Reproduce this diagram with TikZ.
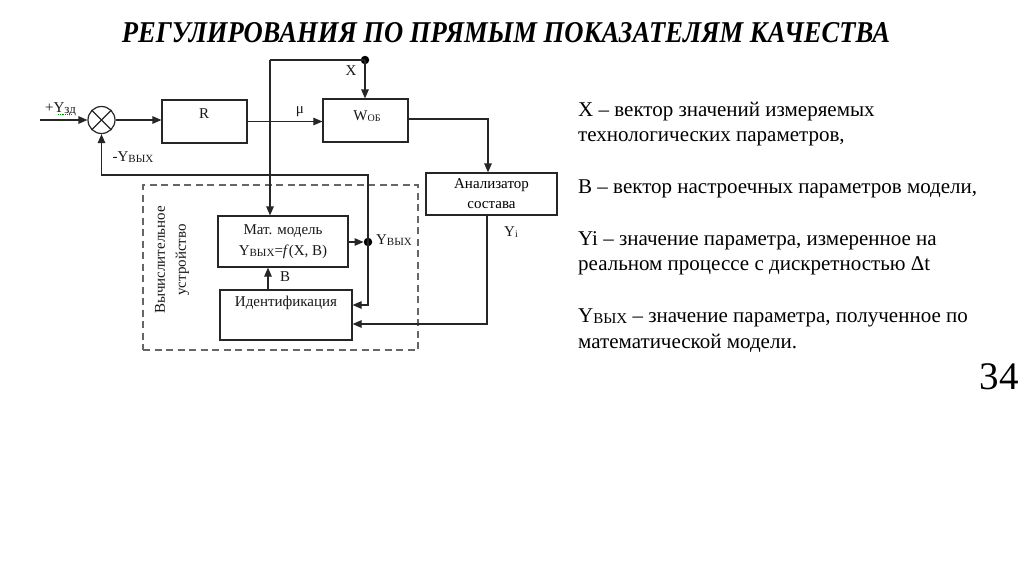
\documentclass[tikz,border=0pt]{standalone}
\usepackage{fontspec}
\setmainfont{Liberation Serif}
\usetikzlibrary{arrows.meta,calc}
\newcommand{\lsub}[2][10.5]{\raisebox{-1.2pt}{\fontsize{#1}{#1}\selectfont #2}}
\tikzset{
  ln/.style={line width=1.2pt, draw=black!85},
  arr/.style={ln, -{Triangle[length=9pt,width=7.5pt]}},
  blk/.style={draw=black!85, line width=1.2pt, rectangle, inner sep=0pt},
  lbl/.style={font=\fontsize{15}{17}\selectfont, text=black!90, inner sep=0pt},
  rt/.style={font=\fontsize{21}{24}\selectfont, anchor=base west, inner sep=0pt, text=black},
  dotp/.style={circle, fill=black, inner sep=0pt, minimum size=8.5pt},
}
\begin{document}
\begin{tikzpicture}[x=1pt,y=-1pt]
\useasboundingbox (0,0) rectangle (1024,576);
\fill[white] (0,0) rectangle (1024,576);

% title
\node[inner sep=0pt] (title) at (506,33) {\resizebox{768pt}{20pt}{\bfseries\itshape РЕГУЛИРОВАНИЯ ПО ПРЯМЫМ ПОКАЗАТЕЛЯМ КАЧЕСТВА}};

% summing junction
\node[draw=black!85, line width=1.2pt, circle, minimum size=27pt, inner sep=0pt] (S) at (101.5,120) {};
\draw[ln] (S.north west) -- (S.south east);
\draw[ln] (S.north east) -- (S.south west);
\coordinate (in) at (40,120);
\draw[arr] (in) -- (S.west);
\node[lbl, anchor=base west] (yzd) at (45,112) {+Y\lsub[13]{зд}};
\draw[green!55!black, densely dotted, line width=0.8pt] (58,114.5) -- (72,114.5);

% R block
\node[blk, minimum width=85pt, minimum height=43pt] (R) at (204.5,121.5) {};
\node[lbl] (Rt) at (204,114) {R};
\draw[arr] (S.east) -- (S.east -| R.west);

% W block
\node[blk, minimum width=85pt, minimum height=43pt] (W) at (365.5,120.5) {};
\node[lbl] (Wt) at (367,116) {W\lsub[10]{ОБ}};
\draw[arr, line width=0.9pt] (R.east) -- (R.east -| W.west);
\node[lbl] (mu) at (300,112) {μ};

% X input
\node[dotp] (Xd) at (365,60) {};
\coordinate (Xl) at (270,60);
\draw[ln] (Xl) -- (Xd.center);
\draw[arr] (Xd.center) -- (Xd |- W.north);
\node[lbl] (Xt) at (351,71) {X};

% analyzer
\node[blk, minimum width=131pt, minimum height=42pt, align=center, font=\fontsize{15}{20}\selectfont] (A) at (491.5,194) {Анализатор\\состава};
\coordinate (Wc) at (488,119);
\draw[arr] (W.east |- Wc) -- (Wc) -- (Wc |- A.north);

% dashed box
\node[draw=black!60, dash pattern=on 7pt off 4.5pt, line width=1.1pt, minimum width=275pt, minimum height=165pt, inner sep=0pt] (dash) at (280.5,267.5) {};
\node[lbl, rotate=90, align=center, font=\fontsize{15}{21}\selectfont] (vu) at (172,260) {Вычислительное\\устройство};

% model
\node[blk, minimum width=130pt, minimum height=51pt] (M) at (283,241.5) {};
\node[lbl] (Mt1) at (283,231) {Мат. модель};
\node[lbl] (Mt2) at (283,252) {Y\lsub[11]{ВЫХ}=\textit{f}(X, B)};

% identification
\node[blk, minimum width=132pt, minimum height=50pt] (I) at (286,315) {};
\node[lbl] (It) at (286,303) {Идентификация};

% X down to model
\draw[arr] (Xl) -- (Xl |- M.north);

% B
\draw[arr] (I.north -| 268,0) -- (268,0 |- M.south);
\node[lbl] (Bt) at (285,277) {B};

% Yout dot
\node[dotp] (Yd) at (368,242) {};
\draw[arr] (M.east |- Yd) -- (Yd.west);
\node[lbl] (Yvt) at (394,240) {Y\lsub[11]{ВЫХ}};
\coordinate (fb1) at (368,175);
\coordinate (fb2) at (101.5,175);
\draw[arr] (Yd.center) -- (fb1) -- (fb2) -- (S.south);
\node[lbl] (myv) at (133,157) {-Y\lsub[11]{ВЫХ}};
\coordinate (fb3) at (368,305);
\draw[arr] (Yd.center) -- (fb3) -- (fb3 -| I.east);

% Yi
\coordinate (yi1) at (487,324);
\draw[arr] (yi1 |- A.south) -- (yi1) -- (yi1 -| I.east);
\node[lbl] (Yit) at (511,232) {Y\lsub[10]{i}};

% right texts
\node[rt] (t1) at (578,116) {X – вектор значений измеряемых};
\node[rt] (t2) at (578,141.8) {технологических параметров,};
\node[rt] (t3) at (578,193.4) {B – вектор настроечных параметров модели,};
\node[rt] (t4) at (578,245) {Yi – значение параметра, измеренное на};
\node[rt] (t5) at (578,270.8) {реальном процессе с дискретностью Δt};
\node[rt] (t6) at (578,322.4) {Y\lsub[15]{ВЫХ} – значение параметра, полученное по};
\node[rt] (t7) at (578,348.2) {математической модели.};

% page number
\node[font=\fontsize{39}{40}\selectfont, anchor=base east, inner sep=0pt] (pg) at (1019,389) {34};
\end{tikzpicture}
\end{document}
